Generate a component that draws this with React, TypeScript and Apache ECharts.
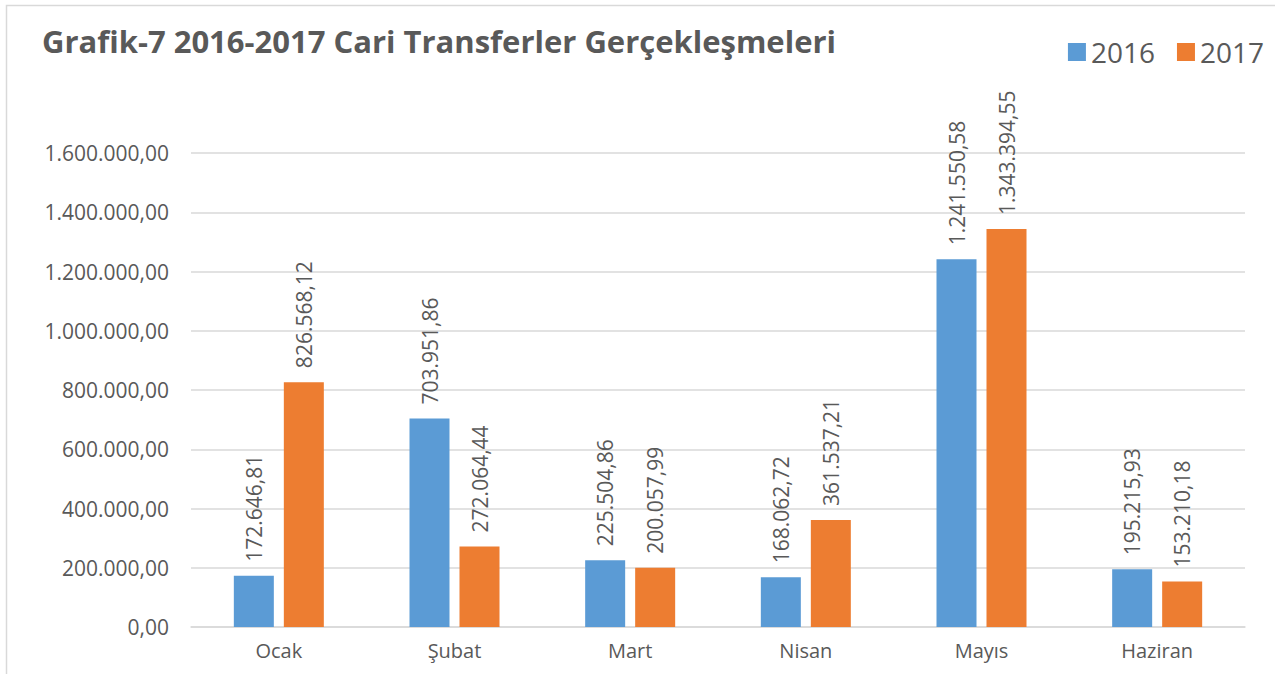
import React, { useEffect, useRef } from "react";
import * as echarts from "echarts";

const categories = ["Ocak", "Şubat", "Mart", "Nisan", "Mayıs", "Haziran"];
const values2016 = [172646.81, 703951.86, 225504.86, 168062.72, 1241550.58, 195215.93];
const values2017 = [826568.12, 272064.44, 200057.99, 361537.21, 1343394.55, 153210.18];
const seriesNames = ["2016", "2017"];
const titleText = "Grafik-7 2016-2017 Cari Transferler Gerçekleşmeleri";

function fmtTR(v: number): string {
  const fixed = Math.abs(v).toFixed(2);
  const [intPart, dec] = fixed.split(".");
  const withDots = intPart.replace(/\B(?=(\d{3})+(?!\d))/g, ".");
  return (v < 0 ? "-" : "") + withDots + "," + dec;
}

const FONT = "'Open Sans', sans-serif";
const GREY = "#595959";

export default function App() {
  const ref = useRef<HTMLDivElement>(null);
  useEffect(() => {
    if (!ref.current) return;
    const chart = echarts.init(ref.current, null, { renderer: "svg" });
    const labelCfg = {
      show: true,
      position: "top" as const,
      rotate: 90,
      align: "left" as const,
      verticalAlign: "middle" as const,
      distance: 14,
      color: GREY,
      fontSize: 21,
      fontFamily: FONT,
      formatter: (p: any) => fmtTR(p.value),
    };
    chart.setOption({
      animation: false,
      backgroundColor: "#ffffff",
      title: {
        text: titleText,
        left: 37,
        top: 20,
        textStyle: { color: GREY, fontSize: 31, fontWeight: "bold", fontFamily: FONT },
      },
      legend: {
        data: seriesNames,
        right: 6,
        top: 33,
        itemWidth: 18,
        itemHeight: 18,
        itemGap: 22,
        icon: "rect",
        textStyle: { color: GREY, fontSize: 28, fontFamily: FONT },
      },
      graphic: [
        {
          type: "rect",
          shape: { x: 6.5, y: 5.5, width: 1300, height: 700 },
          style: { fill: "none", stroke: "#D9D9D9", lineWidth: 1.5 },
          silent: true,
        },
      ],
      grid: { left: 191, right: 30, top: 153, bottom: 47 },
      xAxis: {
        type: "category",
        data: categories,
        axisLine: { show: true, lineStyle: { color: "#D9D9D9", width: 1.5 } },
        axisTick: { show: false },
        axisLabel: { color: GREY, fontSize: 20, fontFamily: FONT, margin: 13 },
      },
      yAxis: {
        type: "value",
        min: 0,
        max: 1600000,
        interval: 200000,
        axisLine: { show: false },
        axisTick: { show: false },
        splitLine: { lineStyle: { color: "#D9D9D9", width: 1.5 } },
        axisLabel: {
          color: GREY,
          fontSize: 21,
          fontFamily: FONT,
          margin: 22,
          formatter: (v: number) => fmtTR(v),
        },
      },
      series: [
        {
          name: seriesNames[0],
          type: "bar",
          data: values2016,
          barWidth: 40,
          barGap: "25%",
          itemStyle: { color: "#5B9BD5" },
          label: labelCfg,
        },
        {
          name: seriesNames[1],
          type: "bar",
          data: values2017,
          barWidth: 40,
          itemStyle: { color: "#ED7D31" },
          label: labelCfg,
        },
      ],
    });
    return () => chart.dispose();
  }, []);
  return (
    <div
      ref={ref}
      style={{ position: "fixed", left: 0, top: 0, width: 1275, height: 674 }}
    />
  );
}
